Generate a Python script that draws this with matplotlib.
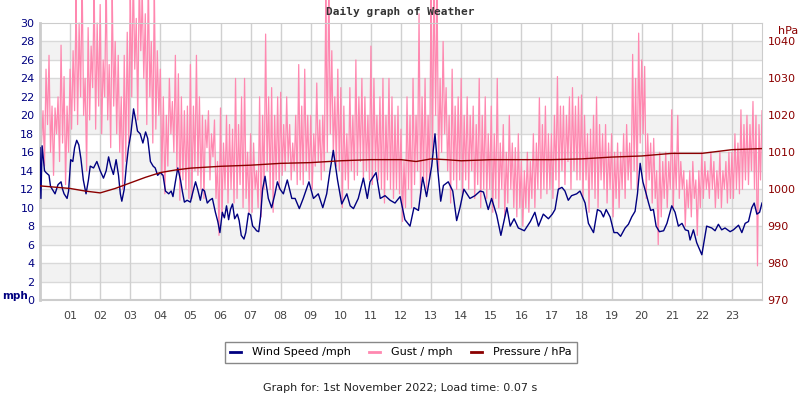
import numpy as np
import matplotlib
matplotlib.use('Agg')
import matplotlib.pyplot as plt
from matplotlib.lines import Line2D

# wind speed (mph): hour of day, value
wind_hours = [0.0, 0.03, 0.07, 0.15, 0.2, 0.3, 0.35, 0.5, 0.6, 0.7, 0.75, 0.8, 0.9, 0.95,
              1.02, 1.09, 1.15, 1.22, 1.29, 1.36, 1.44, 1.53, 1.61, 1.67, 1.78, 1.89,
              2.0, 2.11, 2.2, 2.28, 2.35, 2.44, 2.53, 2.61, 2.67, 2.72, 2.8, 2.87, 2.94,
              3.02, 3.11, 3.18, 3.24, 3.33, 3.42, 3.51, 3.58, 3.67, 3.76, 3.83, 3.91,
              4.0, 4.09, 4.17, 4.28, 4.36, 4.42, 4.5, 4.58, 4.67, 4.73, 4.8, 4.89,
              5.0, 5.09, 5.17, 5.24, 5.33, 5.4, 5.47, 5.56, 5.64, 5.73, 5.83, 5.91, 5.98,
              6.06, 6.13, 6.2, 6.27, 6.33, 6.4, 6.47, 6.56, 6.62, 6.69, 6.78, 6.84, 6.93,
              7.0, 7.07, 7.13, 7.2, 7.27, 7.33, 7.4, 7.48, 7.59, 7.7, 7.81, 7.89, 7.98,
              8.09, 8.22, 8.37, 8.48, 8.62, 8.75, 8.94, 9.09, 9.25, 9.4, 9.53, 9.64, 9.75,
              9.89, 10.03, 10.2, 10.31, 10.42, 10.58, 10.75, 10.88, 10.97, 11.17, 11.31,
              11.47, 11.64, 11.8, 11.97, 12.13, 12.3, 12.43, 12.58, 12.72, 12.85, 13.02,
              13.13, 13.22, 13.32, 13.41, 13.57, 13.72, 13.85, 13.96, 14.09, 14.29, 14.46,
              14.63, 14.74, 14.9, 15.01, 15.18, 15.32, 15.52, 15.63, 15.76, 15.9, 16.1,
              16.3, 16.45, 16.57, 16.73, 16.9, 17.03, 17.12, 17.23, 17.35, 17.45, 17.56,
              17.67, 17.84, 17.95, 18.12, 18.23, 18.4, 18.53, 18.64, 18.73, 18.82, 18.95,
              19.08, 19.19, 19.3, 19.45, 19.56, 19.67, 19.78, 19.86, 19.95, 20.04, 20.15,
              20.23, 20.3, 20.39, 20.48, 20.59, 20.73, 20.84, 21.0, 21.11, 21.22, 21.34,
              21.45, 21.55, 21.61, 21.72, 21.83, 22.0, 22.16, 22.33, 22.44, 22.55, 22.66,
              22.77, 22.94, 23.05, 23.22, 23.33, 23.44, 23.55, 23.66, 23.74, 23.83, 23.92, 24.0]
wind_mph = [16.5, 11.0, 16.7, 14.0, 13.8, 13.5, 12.3, 11.5, 12.5, 12.8, 12.0, 11.5, 11.0, 11.8,
            15.2, 15.0, 16.5, 17.3, 16.8, 15.3, 13.0, 11.5, 13.0, 14.5, 14.3, 15.0,
            14.0, 13.2, 14.0, 15.5, 14.5, 13.6, 15.2, 13.5, 11.5, 10.7, 12.0, 14.5, 16.5,
            18.0, 20.7, 19.5, 18.3, 18.0, 17.0, 18.2, 17.5, 15.0, 14.5, 14.3, 13.5,
            13.8, 13.5, 11.8, 11.5, 11.8, 11.2, 12.8, 14.3, 13.0, 11.8, 10.6, 10.8,
            10.6, 11.8, 12.8, 12.0, 10.8, 12.0, 11.8, 10.5, 10.8, 11.0, 9.5, 8.5, 7.3,
            9.5, 8.9, 10.2, 8.7, 9.8, 10.4, 8.8, 9.3, 8.6, 7.0, 6.6, 7.3, 9.4,
            9.2, 8.0, 7.8, 7.5, 7.4, 9.0, 12.0, 13.4, 11.0, 10.0, 11.5, 12.8, 12.0,
            11.5, 13.0, 11.0, 11.0, 9.9, 11.0, 12.8, 11.0, 11.5, 10.0, 11.5, 14.0, 16.2,
            13.0, 10.4, 11.5, 10.2, 9.9, 11.0, 13.2, 11.0, 12.8, 13.8, 11.0,
            11.3, 10.8, 10.5, 11.2, 8.7, 8.0, 10.0, 9.7, 13.3, 11.2, 14.5,
            18.0, 14.2, 10.7, 12.4, 12.8, 11.8, 8.6, 10.0, 12.0, 11.0, 11.3,
            11.8, 11.7, 9.8, 11.0, 9.2, 7.0, 10.0, 8.0, 8.8, 7.8, 7.5,
            8.5, 9.5, 8.0, 9.3, 8.8, 9.3, 9.8, 12.0, 12.2, 11.8, 10.8,
            11.3, 11.5, 11.8, 10.5, 8.3, 7.3, 9.8, 9.6, 9.0, 9.8, 9.0,
            7.3, 7.3, 6.9, 7.8, 8.2, 9.0, 9.6, 11.5, 14.8, 12.8, 11.5,
            10.5, 9.7, 9.8, 8.0, 7.4, 7.5, 8.3, 10.2, 9.5, 8.0, 8.3,
            7.6, 7.5, 6.5, 7.6, 6.2, 4.9, 8.0, 7.8, 7.5, 8.2, 7.6,
            7.8, 7.4, 7.6, 8.1, 7.3, 8.3, 8.5, 10.0, 10.5, 9.3, 9.5, 10.5]

# gust (mph), twenty readings per hour
gust_mph = [
    24.2, 17.0, 20.5, 14.5, 25.0, 19.0, 26.5, 16.0, 21.0, 13.5, 20.8, 18.0, 22.0, 15.0, 27.6, 17.0, 24.2, 12.5, 21.0, 16.0,
    25.0, 18.5, 27.0, 20.5, 33.0, 19.0, 30.0, 22.0, 35.0, 20.0, 24.0, 14.0, 29.5, 19.5, 27.5, 23.0, 34.0, 18.5, 30.0, 21.0,
    32.0, 18.0, 26.0, 22.0, 35.0, 19.5, 25.5, 16.5, 33.5, 21.0, 28.0, 18.0, 26.5, 16.0, 22.0, 12.0, 26.5, 15.0, 29.0, 17.0,
    34.0, 22.0, 36.0, 25.0, 30.5, 19.5, 35.0, 27.0, 33.0, 24.0, 31.0, 19.0, 35.0, 22.0, 28.0, 17.0, 34.0, 18.5, 27.0, 20.0,
    25.0, 13.5, 22.0, 11.5, 20.0, 14.5, 24.0, 18.0, 21.5, 16.0, 26.5, 14.0, 24.5, 10.8, 22.0, 13.0, 20.5, 12.0, 21.0, 11.0,
    25.5, 11.0, 21.0, 14.0, 26.5, 13.5, 22.0, 12.0, 20.0, 11.0, 19.5, 16.5, 20.5, 13.0, 18.0, 15.5, 19.5, 11.0, 15.0, 7.0,
    20.8, 9.0, 17.0, 12.0, 20.0, 10.5, 19.0, 12.0, 18.5, 10.5, 24.0, 11.0, 19.0, 12.5, 22.0, 10.0, 24.0, 11.0, 16.0, 9.5,
    18.0, 9.5, 17.0, 12.0, 14.0, 10.0, 22.0, 9.0, 20.0, 12.0, 28.8, 14.0, 22.0, 12.0, 23.0, 9.5, 20.0, 13.0, 22.0, 12.0,
    22.5, 13.5, 19.0, 14.0, 22.0, 15.0, 19.0, 13.0, 17.0, 14.0, 20.0, 12.5, 25.5, 13.0, 21.0, 12.5, 25.0, 14.0, 20.0, 13.0,
    20.0, 12.0, 18.0, 14.5, 23.5, 15.0, 19.5, 13.0, 20.0, 14.0, 33.0, 16.0, 35.0, 18.0, 27.0, 15.5, 22.0, 14.5, 25.0, 14.0,
    23.0, 10.0, 21.0, 13.0, 18.0, 12.0, 23.0, 14.0, 20.0, 13.0, 26.0, 13.5, 22.0, 15.0, 24.0, 13.0, 22.0, 14.0, 20.0, 13.0,
    27.5, 12.5, 24.0, 14.0, 20.0, 13.0, 22.0, 12.0, 24.0, 10.5, 20.0, 13.0, 24.0, 12.0, 22.0, 11.0, 20.0, 12.0, 21.0, 11.5,
    18.5, 8.5, 15.0, 10.0, 22.0, 12.0, 20.0, 10.0, 24.0, 12.5, 20.0, 14.0, 31.0, 11.0, 22.0, 13.0, 24.0, 12.0, 20.0, 13.0,
    34.0, 16.0, 36.0, 20.0, 33.0, 14.0, 24.0, 16.0, 28.0, 18.0, 23.0, 14.0, 20.0, 10.5, 25.0, 13.0, 21.0, 12.0, 22.0, 13.0,
    24.0, 11.5, 20.0, 13.0, 22.0, 12.0, 20.0, 14.0, 21.0, 11.0, 19.0, 12.5, 24.0, 10.0, 20.0, 12.0, 22.0, 11.0, 18.0, 12.0,
    21.0, 9.5, 18.0, 11.0, 24.0, 10.0, 17.0, 12.0, 19.0, 9.0, 16.0, 10.5, 20.0, 12.0, 17.0, 10.0, 16.5, 9.0, 18.0, 10.0,
    15.0, 8.0, 14.0, 10.0, 16.0, 9.5, 15.0, 11.0, 18.0, 10.0, 17.0, 12.0, 21.9, 11.0, 19.0, 12.0, 21.0, 11.5, 18.0, 12.0,
    18.0, 11.0, 20.0, 13.0, 24.2, 12.0, 21.0, 14.0, 21.0, 12.5, 20.0, 15.0, 22.0, 12.0, 23.0, 14.0, 21.0, 13.0, 22.0, 13.0,
    22.2, 11.0, 20.0, 13.0, 18.0, 9.5, 18.5, 12.0, 20.0, 11.0, 22.0, 10.0, 19.0, 13.0, 18.0, 12.0, 19.0, 10.5, 17.0, 12.0,
    18.0, 9.0, 16.0, 11.0, 17.0, 10.0, 16.0, 12.0, 18.0, 11.0, 19.0, 13.0, 17.0, 12.0, 26.6, 14.0, 24.0, 12.0, 28.9, 17.0,
    26.0, 18.0, 25.3, 11.0, 18.0, 13.0, 17.0, 10.5, 17.5, 11.0, 14.0, 6.0, 16.0, 9.0, 15.0, 11.0, 16.0, 10.0, 15.0, 12.0,
    20.6, 10.0, 16.0, 12.0, 20.0, 11.0, 15.0, 12.0, 14.0, 8.0, 13.0, 10.0, 14.0, 9.0, 15.0, 11.0, 13.0, 7.0, 14.0, 10.0,
    16.0, 11.0, 15.0, 12.0, 14.0, 11.0, 16.0, 12.0, 15.0, 10.0, 14.0, 11.0, 16.0, 10.0, 14.0, 12.0, 15.0, 10.5, 16.0, 11.0,
    16.0, 11.0, 18.0, 12.0, 17.0, 11.5, 20.6, 12.0, 19.0, 13.0, 20.0, 12.5, 19.0, 14.0, 21.5, 12.0, 20.0, 3.7, 19.0, 13.0,
    20.5]
gust_hours = [i / 20 for i in range(len(gust_mph))]

# pressure (hPa)
pres_hours = [0, 1, 1.5, 2, 2.5, 3, 3.5, 4, 4.5, 5, 6, 7, 8, 9, 10, 11, 12, 12.5, 13,
              13.5, 14, 15, 16, 17, 18, 19, 20, 21, 22, 23, 24]
pres_hpa = [1000.9, 1000.2, 999.5, 999.0, 1000.2, 1001.7, 1003.2, 1004.5, 1005.2, 1005.7,
            1006.2, 1006.5, 1007.0, 1007.2, 1007.7, 1008.0, 1008.0, 1007.5, 1008.2, 1008.0,
            1007.7, 1008.0, 1008.0, 1008.0, 1008.2, 1008.7, 1009.0, 1009.7, 1009.7, 1010.7, 1011.0]

hour_labels = ['%02d' % h for h in range(1, 24)]

navy = '#000080'
pink = '#ff88b0'
dred = '#8b0000'

fig = plt.figure(figsize=(8, 4), dpi=100)
ax = fig.add_axes([0.05, 0.25, 0.9025, 0.6925])

# striped background
for y0 in range(2, 30, 4):
    ax.axhspan(y0, y0 + 2, color='#f2f2f2', zorder=0, lw=0)
for y in range(2, 30, 2):
    ax.axhline(y, color='#d9d9d9', lw=1, zorder=0.5)
for h in range(1, 24):
    ax.axvline(h, color='#d0d0d0', lw=1, zorder=0.5)

ax.plot(gust_hours, gust_mph, color=pink, lw=0.9, zorder=2, clip_on=False)
ax.plot(wind_hours, wind_mph, color=navy, lw=1, zorder=3)

ax.set_xlim(0, 24)
ax.set_ylim(0, 30)
ax.set_yticks(range(0, 31, 2))
ax.set_xticks(range(1, 24))
ax.set_xticklabels(hour_labels)
ax.tick_params(axis='y', colors=navy, labelsize=8, length=0, pad=4)
ax.tick_params(axis='x', colors='#444444', labelsize=8, length=0, pad=8)
for s in ax.spines.values():
    s.set_color('#cccccc')
ax.spines['left'].set_linewidth(2)
ax.spines['bottom'].set_linewidth(1.5)

ax2 = ax.twinx()
ax2.plot(pres_hours, pres_hpa, color=dred, lw=1.0, zorder=4)
ax2.set_ylim(970, 1045)
ax2.set_yticks(range(970, 1041, 10))
ax2.tick_params(axis='y', colors=dred, labelsize=8, length=0, pad=4)
for s in ax2.spines.values():
    s.set_visible(False)

fig.text(0.5, 0.97, 'Daily graph of Weather', ha='center', va='center',
         family='DejaVu Sans Mono', fontweight='bold', fontsize=8, color='#333333')
fig.text(0.003, 0.26, 'mph', ha='left', va='center', fontweight='bold', fontsize=7.5, color=navy)
fig.text(0.973, 0.922, 'hPa', ha='left', va='center', fontsize=8, color=dred)

handles = [Line2D([], [], color=navy, lw=2), Line2D([], [], color=pink, lw=2),
           Line2D([], [], color=dred, lw=2)]
leg = fig.legend(handles, ['Wind Speed /mph', 'Gust / mph', 'Pressure / hPa'],
                 loc='center', bbox_to_anchor=(0.501, 0.119), ncol=3, fontsize=8,
                 handlelength=1, handletextpad=1.0, columnspacing=1.6,
                 fancybox=False, edgecolor='#888888', framealpha=1,
                 borderpad=0.5)
leg.get_frame().set_linewidth(1)

fig.text(0.5, 0.03, 'Graph for: 1st November 2022; Load time: 0.07 s',
         ha='center', va='center', fontsize=8, color='#222222')

fig.savefig('out.png', dpi=100)
